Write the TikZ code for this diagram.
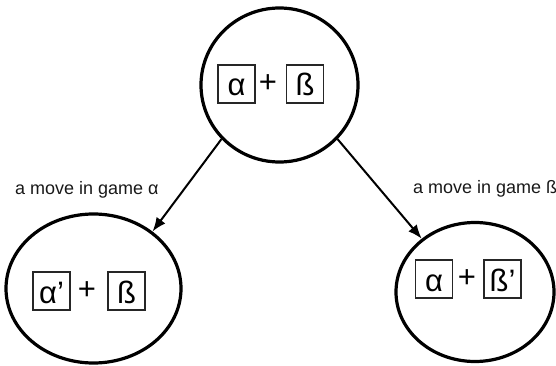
\documentclass[tikz,border=0pt]{standalone}
\usepackage{fontspec}
\setmainfont{Liberation Sans}
\usetikzlibrary{shapes.geometric,arrows.meta}

\begin{document}
\begin{tikzpicture}[x=1pt, y=-1pt,
    state/.style={draw, ellipse, line width=3.2pt, inner sep=0pt},
    gamebox/.style={draw=black!85, line width=1.2pt, minimum width=37pt, minimum height=38pt,
        inner sep=0pt, text height=24pt, text depth=0pt, font=\fontsize{31}{31}\selectfont},
    plus/.style={inner sep=0pt, font=\fontsize{31}{31}\selectfont},
    movelabel/.style={anchor=base west, inner sep=0pt, text=black!90, font=\fontsize{18}{18}\selectfont},
    move/.style={line width=2pt, -{Latex[length=14pt, width=11pt]}}]
    \useasboundingbox (0,0) rectangle (556,366);

    % Positions of the three positions (sum games)
    \node[state, minimum width=157pt, minimum height=154pt] (sum) at (279.5,85) {};
    \node[state, minimum width=175pt, minimum height=149pt] (sumA) at (93.5,288.5) {};
    \node[state, minimum width=158pt, minimum height=139pt] (sumB) at (475,292) {};

    % Game terms inside the top circle
    \node[gamebox] (gA) at (236.5,84) {α};
    \node[plus] (pl) at (268,84) {+};
    \node[gamebox] (gB) at (305,84) {ß};

    % Game terms after a move in alpha
    \node[gamebox] (gA1) at (51.5,291) {α’};
    \node[plus] (plA) at (87,291) {+};
    \node[gamebox] (gB1) at (126.5,291) {ß};

    % Game terms after a move in beta
    \node[gamebox] (gA2) at (434,279) {α};
    \node[plus] (plB) at (467,279) {+};
    \node[gamebox] (gB2) at (502.5,279) {ß’};

    % Moves and their labels
    \draw[move] (sum.223) -- (sumA.44);
    \draw[move] (sum.317) -- (sumB.135);
    \node[movelabel] (labA) at (15,194) {a move in game α};
    \node[movelabel] (labB) at (413,193) {a move in game ß};

\end{tikzpicture}
\end{document}
